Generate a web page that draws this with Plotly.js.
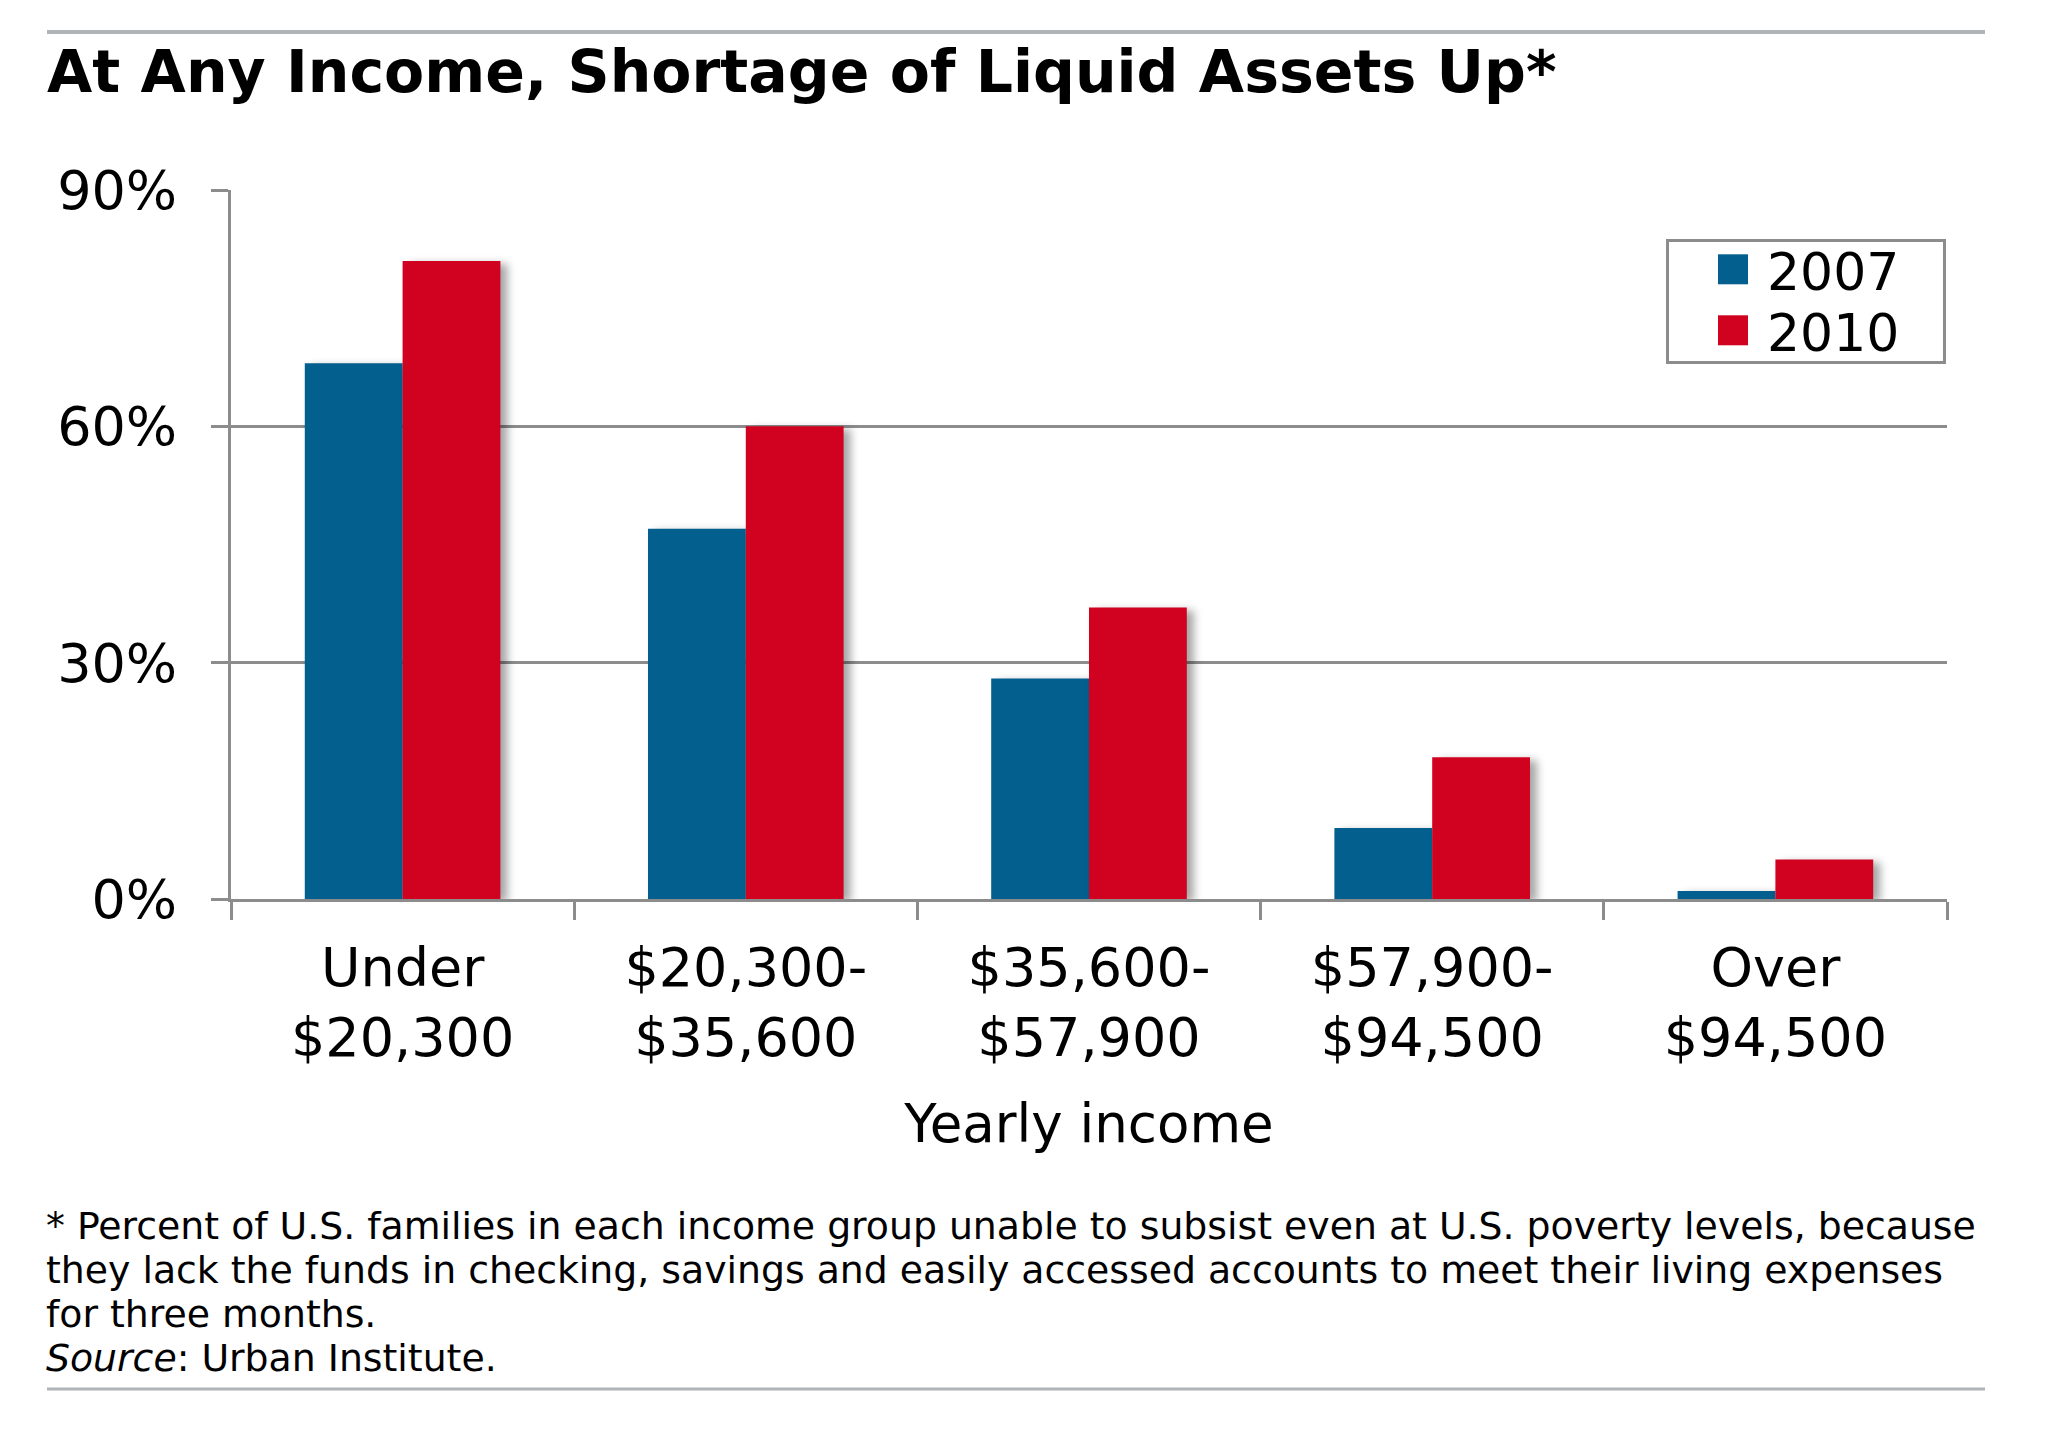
<!DOCTYPE html>
<html>
<head>
<meta charset="utf-8">
<script src="https://cdn.plot.ly/plotly-3.0.1.min.js"></script>
<style>
  html, body { margin: 0; padding: 0; background: #ffffff; }
  #chart { width: 2046px; height: 1432px; }
  .trace.bars .point path { filter: drop-shadow(7px 3px 4px rgba(0,0,0,0.35)); }
</style>
</head>
<body>
<div id="chart"></div>
<script>
// ---- data ----
const categories = ["Under<br>$20,300", "$20,300-<br>$35,600", "$35,600-<br>$57,900", "$57,900-<br>$94,500", "Over<br>$94,500"];
const series2007 = [68, 47, 28, 9, 1];
const series2010 = [81, 60, 37, 18, 5];
const seriesNames = ["2007", "2010"];
const yTickValues = [0, 30, 60, 90];
const yTickLabels = ["0%", "30%", "60%", "90%"];

const titleText = "At Any Income, Shortage of Liquid Assets Up*";
const xTitleText = "Yearly income";
const footnoteLines = [
  "* Percent of U.S. families in each income group unable to subsist even at U.S. poverty levels, because",
  "they lack the funds in checking, savings and easily accessed accounts to meet their living expenses",
  "for three months.",
  "<i>Source</i>: Urban Institute."
];

// ---- layout geometry ----
const W = 2046, H = 1432;
const L = 231, R = 1947, T = 190, B = 899;
const pw = R - L, ph = B - T;
const px = x => (x - L) / pw;
const py = y => (B - y) / ph;

const FONT = "DejaVu Sans, Verdana, sans-serif";
const GRID = "#8c8c8c";
const BLUE = "#035f8e";
const RED = "#d0021f";
const FOOT_SIZE = 37.8;
const footBaselines = [1240, 1284, 1328, 1372];

const traces = [
  { type: "bar", name: seriesNames[0], x: categories, y: series2007,
    marker: { color: BLUE }, hoverinfo: "skip" },
  { type: "bar", name: seriesNames[1], x: categories, y: series2010,
    marker: { color: RED }, hoverinfo: "skip" }
];

const layout = {
  width: W, height: H,
  paper_bgcolor: "#ffffff", plot_bgcolor: "#ffffff",
  margin: { l: L, r: W - R, t: T, b: H - B, pad: 0 },
  font: { family: FONT, color: "#000000", size: 54 },
  barmode: "group", bargap: 0.43, bargroupgap: 0,
  title: {
    text: "<b>" + titleText + "</b>",
    font: { family: FONT, size: 58.5, color: "#000000" },
    xref: "container", yref: "container",
    x: 47 / W, xanchor: "left",
    y: 1 - 51 / H, yanchor: "top"
  },
  xaxis: {
    type: "category",
    showline: true, linecolor: GRID, linewidth: 3,
    ticks: "outside", tickson: "boundaries", ticklen: 18, tickwidth: 3, tickcolor: GRID,
    tickfont: { family: FONT, size: 54, color: "#000000" },
    ticklabelstandoff: 19,
    showgrid: false, zeroline: false, fixedrange: true,
    title: { text: xTitleText, font: { family: FONT, size: 53, color: "#000000" }, standoff: 37 }
  },
  yaxis: {
    range: [0, 90], tickvals: yTickValues, ticktext: yTickLabels,
    showline: true, linecolor: GRID, linewidth: 3,
    ticks: "outside", ticklen: 17, tickwidth: 3, tickcolor: GRID,
    ticklabelstandoff: 23,
    tickfont: { family: FONT, size: 54, color: "#000000" },
    showgrid: true, gridcolor: GRID, gridwidth: 3,
    zeroline: false, fixedrange: true
  },
  legend: {
    x: px(1666), y: py(239), xanchor: "left", yanchor: "top",
    bgcolor: "#ffffff", bordercolor: GRID, borderwidth: 3,
    font: { family: FONT, size: 52, color: "#000000" },
    itemwidth: 88,
    traceorder: "normal"
  },
  shapes: [
    { type: "line", xref: "paper", yref: "paper", x0: px(47), x1: px(1985), y0: py(32), y1: py(32),
      line: { color: "#b1b4b6", width: 4 } },
    { type: "line", xref: "paper", yref: "paper", x0: px(47), x1: px(1985), y0: py(1389), y1: py(1389),
      line: { color: "#b1b4b6", width: 3 } }
  ],
  annotations: footnoteLines.map((t, i) => ({
    text: t, xref: "paper", yref: "paper", x: px(44), y: py(footBaselines[i] - FOOT_SIZE),
    xanchor: "left", yanchor: "top", align: "left", showarrow: false,
    font: { family: FONT, size: FOOT_SIZE, color: "#000000" }
  }))
};

Plotly.newPlot("chart", traces, layout, { displayModeBar: false, staticPlot: true }).then(() => {
  document.querySelectorAll(".legend .legendpoints path").forEach(p => {
    p.setAttribute("d", "M30,15H0V-15H30Z");
    p.style.strokeWidth = "0px";
  });
  // tighten legend row spacing / padding to match the original box
  const items = document.querySelectorAll(".legend .traces");
  const re = /translate\(\s*([-\d.]+)[ ,]+([-\d.]+)\s*\)/;
  if (items.length === 2) {
    const m0 = (items[0].getAttribute("transform") || "").match(re);
    const m1 = (items[1].getAttribute("transform") || "").match(re);
    if (m0 && m1) {
      const y0 = parseFloat(m0[2]);
      const up = 13, gap = 61;
      items[0].setAttribute("transform", "translate(" + m0[1] + "," + (y0 - up) + ")");
      items[1].setAttribute("transform", "translate(" + m1[1] + "," + (y0 - up + gap) + ")");
      const bg = document.querySelector(".legend .bg");
      if (bg) {
        const h = parseFloat(bg.getAttribute("height"));
        const w = parseFloat(bg.getAttribute("width"));
        bg.setAttribute("height", 122);
        bg.setAttribute("width", w + 38);
      }
    }
  }
});
</script>
</body>
</html>
